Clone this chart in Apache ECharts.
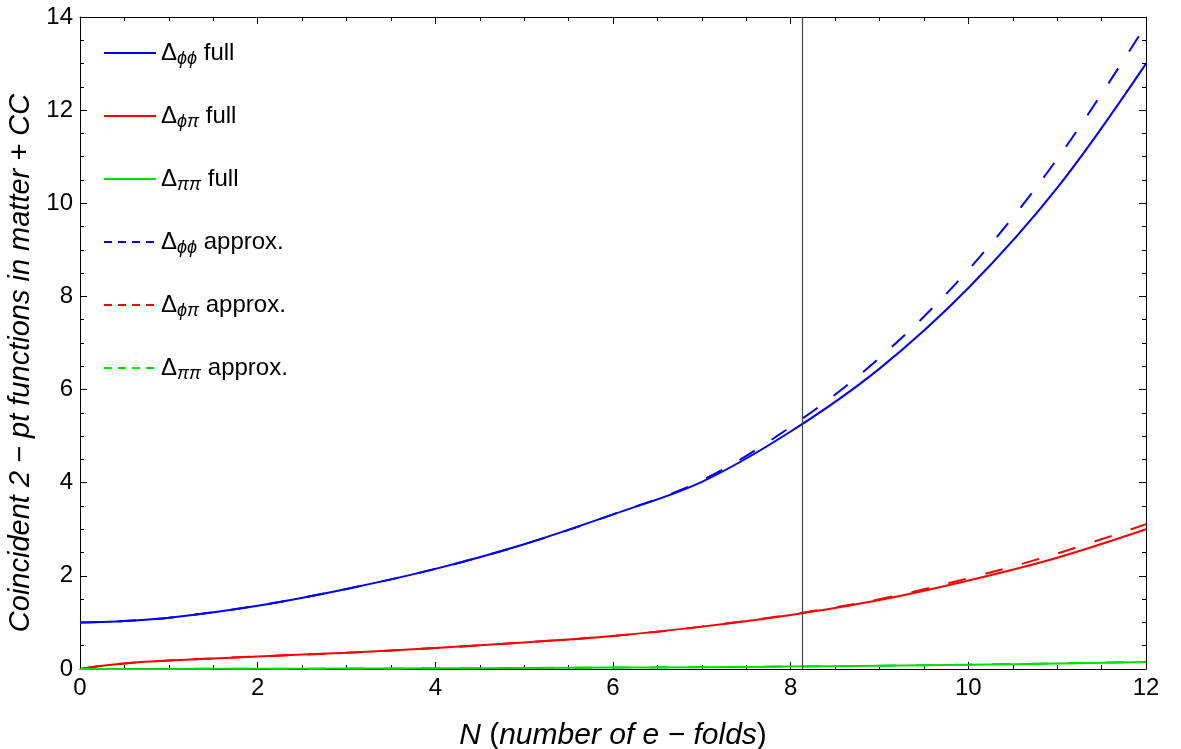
<!DOCTYPE html>
<html>
<head>
<meta charset="utf-8">
<script src="https://cdn.jsdelivr.net/npm/echarts@6/dist/echarts.min.js"></script>
<style>
  html, body { margin: 0; padding: 0; background: #fff; }
  #chart { width: 1181px; height: 749px; }
</style>
</head>
<body>
<div id="chart"></div>
<script>
// number of e-folds
const N = [0, 0.25, 0.5, 1, 2, 3, 4, 5, 6, 7, 8, 9, 10, 11, 12];

// coincident 2-pt functions
const phiphiFull   = [1.00, 1.01, 1.03, 1.10, 1.36, 1.72, 2.15, 2.68, 3.32, 4.02, 5.10, 6.45, 8.18, 10.33, 13.00];
const phipiFull    = [0.00, 0.07, 0.12, 0.18, 0.27, 0.35, 0.45, 0.57, 0.71, 0.91, 1.16, 1.48, 1.90, 2.39, 3.00];
const pipiFull     = [0.000, 0.000, 0.001, 0.002, 0.005, 0.010, 0.015, 0.022, 0.030, 0.040, 0.052, 0.068, 0.090, 0.117, 0.150];
const phiphiApprox = [1.00, 1.01, 1.03, 1.10, 1.36, 1.72, 2.15, 2.68, 3.32, 4.05, 5.20, 6.68, 8.57, 10.95, 13.83];
const phipiApprox  = [0.00, 0.07, 0.12, 0.18, 0.27, 0.35, 0.45, 0.57, 0.71, 0.91, 1.17, 1.50, 1.95, 2.48, 3.11];
const pipiApprox   = [0.000, 0.000, 0.001, 0.002, 0.005, 0.010, 0.015, 0.022, 0.030, 0.041, 0.053, 0.070, 0.093, 0.121, 0.156];

const markN = 8.13;   // vertical marker

const names = ['phiphi full', 'phipi full', 'pipi full', 'phiphi approx.', 'phipi approx.', 'pipi approx.'];
const subs  = ['ϕϕ', 'ϕπ', 'ππ', 'ϕϕ', 'ϕπ', 'ππ'];
const tails = ['full', 'full', 'full', 'approx.', 'approx.', 'approx.'];
const colors = ['#0000ff', '#ff0000', '#00dd00', '#0000ff', '#ff0000', '#00dd00'];
const dataSets = [phiphiFull, phipiFull, pipiFull, phiphiApprox, phipiApprox, pipiApprox];

const FONT = 'Liberation Sans';

function pairs(ys) {
  return N.map((x, i) => [x, ys[i]]);
}

const series = names.map((name, i) => {
  const dashed = i >= 3;
  const s = {
    name: name,
    type: 'line',
    data: pairs(dataSets[i]),
    smooth: 0.35,
    symbol: 'none',
    showSymbol: false,
    animation: false,
    z: dashed ? 3 : 2,
    lineStyle: {
      color: colors[i],
      width: 2,
      type: dashed ? [18, 20] : 'solid'
    },
    itemStyle: { color: colors[i] }
  };
  if (i === 0) {
    s.markLine = {
      silent: true,
      symbol: ['none', 'none'],
      label: { show: false },
      lineStyle: { color: '#444', type: 'solid', width: 1.2 },
      data: [{ xAxis: markN }]
    };
  }
  return s;
});

const legendData = names.map((name, i) => ({
  name: name,
  itemStyle: { opacity: 0 },
  lineStyle: i >= 3 ? { type: [8, 6], width: 2, color: colors[i] } : { type: 'solid', width: 2, color: colors[i] }
}));

function frameAxis(pos, show) {
  return {
    type: 'value',
    position: pos,
    min: 0,
    interval: 2,
    axisLine: { show: true, onZero: false, lineStyle: { color: '#000', width: 1 } },
    axisTick: { show: true, inside: true, length: 7, lineStyle: { color: '#000' } },
    minorTick: { show: true, splitNumber: 4, length: 4, lineStyle: { color: '#000' } },
    splitLine: { show: false },
    minorSplitLine: { show: false },
    axisLabel: { show: show, fontFamily: FONT, fontSize: 24, color: '#000', margin: 7 }
  };
}

const xBottom = Object.assign(frameAxis('bottom', true), {
  max: 12,
  name: '{i|N} ({i|number of e − folds})',
  nameLocation: 'middle',
  nameGap: 52,
  nameTextStyle: {
    fontFamily: FONT, fontSize: 30, color: '#000',
    rich: { i: { fontFamily: FONT, fontSize: 30, fontStyle: 'italic', color: '#000' } }
  }
});
const xTop = Object.assign(frameAxis('top', false), { max: 12 });
const yLeft = Object.assign(frameAxis('left', true), {
  max: 14,
  name: 'Coincident 2 − pt functions in matter + CC',
  nameLocation: 'middle',
  nameGap: 38,
  nameTextStyle: { fontFamily: FONT, fontSize: 29, fontStyle: 'italic', color: '#000', padding: [0, 40, 0, 0] }
});
const yRight = Object.assign(frameAxis('right', false), { max: 14 });

const chart = echarts.init(document.getElementById('chart'), null, { renderer: 'canvas' });
chart.setOption({
  backgroundColor: '#fff',
  animation: false,
  grid: { left: 80, right: 35, top: 17, bottom: 80, containLabel: false, outerBoundsMode: 'none' },
  legend: {
    data: legendData,
    orient: 'vertical',
    left: 98,
    top: 36,
    itemWidth: 52,
    itemHeight: 12,
    itemGap: 36,
    selectedMode: false,
    itemStyle: { opacity: 0 },
    formatter: function (name) {
      const i = names.indexOf(name);
      return '{d|Δ}{s|' + subs[i] + '}{t| ' + tails[i] + '}';
    },
    textStyle: {
      fontFamily: FONT,
      rich: {
        d: { fontSize: 24, fontFamily: FONT, color: '#000', lineHeight: 30, verticalAlign: 'middle' },
        s: { fontSize: 18, fontFamily: FONT, fontStyle: 'italic', color: '#000', verticalAlign: 'bottom' },
        t: { fontSize: 24, fontFamily: FONT, color: '#000', lineHeight: 30, verticalAlign: 'middle' }
      }
    }
  },
  xAxis: [xBottom, xTop],
  yAxis: [yLeft, yRight],
  series: series
});
</script>
</body>
</html>
